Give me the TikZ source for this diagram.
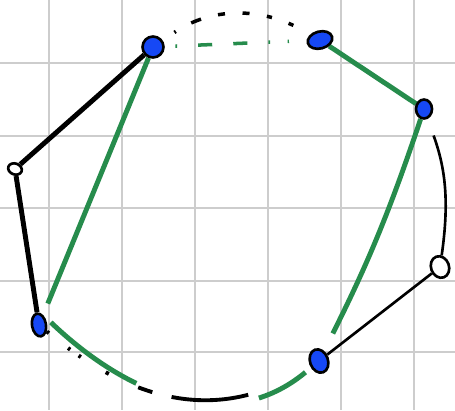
\documentclass[tikz,border=0pt]{standalone}
\usetikzlibrary{shapes.geometric,backgrounds}
\definecolor{dotblue}{RGB}{22,72,245}
\definecolor{inkgreen}{RGB}{38,140,76}
\definecolor{gridgray}{RGB}{205,205,205}

\begin{document}
\begin{tikzpicture}[x=0.02cm, y=-0.02cm, line cap=round]
\tikzstyle{vtx}=[ellipse, draw=black, line width=1.5pt, fill=dotblue, inner sep=0pt]
\tikzstyle{hollow}=[ellipse, draw=black, line width=1.5pt, fill=white, inner sep=0pt]
\tikzstyle{thickink}=[black, line width=2.8pt]
\tikzstyle{thinink}=[black, line width=1.5pt]
\tikzstyle{greenink}=[inkgreen, line width=2.8pt]
\useasboundingbox (0,0) rectangle (455,410);
% grid
\begin{scope}[on background layer]
\fill[white] (0,0) rectangle (455,410);
\foreach \gx in {49,122,195,268,341,414}
  \draw[gridgray, line width=1.1pt] (\gx,0) -- (\gx,410);
\foreach \gy in {63,136,208,281,352}
  \draw[gridgray, line width=1.1pt] (0,\gy) -- (455,\gy);
\end{scope}
% vertices
\node[vtx, minimum width=0.42cm, minimum height=0.42cm] (a) at (153,47) {};
\node[vtx, minimum width=0.5cm, minimum height=0.34cm, rotate=15] (b) at (320,40) {};
\node[vtx, minimum width=0.32cm, minimum height=0.38cm] (c) at (424,109) {};
\node[hollow, minimum width=0.28cm, minimum height=0.22cm, rotate=-20] (d) at (15,169) {};
\node[hollow, minimum width=0.36cm, minimum height=0.44cm, rotate=20] (e) at (440,267) {};
\node[vtx, minimum width=0.28cm, minimum height=0.46cm, rotate=10] (f) at (39,325) {};
\node[vtx, minimum width=0.36cm, minimum height=0.48cm, rotate=20] (g) at (319,361) {};
% edges
\begin{scope}[on background layer]
\draw[thickink] (a) -- (d);
\draw[thickink] (d) -- (f);
\draw[thinink] (b) -- (c);
\draw[greenink] (b) -- (c);
\draw[thinink, shorten <=10pt] (c) to[bend left=14] (e);
\draw[thinink] (e) -- (g);
\draw[greenink, shorten >=7pt] (a) -- (f);
\draw[greenink, shorten >=11pt] (c) to[bend left=4] (g);
\draw[black, line width=2pt, dash pattern=on 1pt off 10pt on 6pt off 10pt on 4pt off 10pt on 4pt off 10pt on 3pt off 10pt on 3pt off 8pt, shorten <=8pt, shorten >=4pt] (a) to[bend left=32] (b);
\draw[inkgreen, line width=2pt, dash pattern=on 1pt off 12pt on 8pt off 12pt on 8pt off 12pt on 1pt off 10pt, shorten <=6pt, shorten >=10pt] (a) -- (b);
\draw[black, line width=2.2pt, dash pattern=on 1.5pt off 13.8pt on 1.5pt off 5.9pt on 1.5pt off 16.6pt on 2pt off 18.4pt on 8.5pt off 11.3pt on 44pt off 200pt] (f) .. controls (120,392) and (210,432) .. (g);
\draw[greenink, dash pattern=on 60pt off 72pt on 36pt off 200pt, shorten <=6pt, shorten >=4pt] (f.north east) .. controls (130,398) and (230,435) .. (g);
\end{scope}
\end{tikzpicture}
\end{document}
